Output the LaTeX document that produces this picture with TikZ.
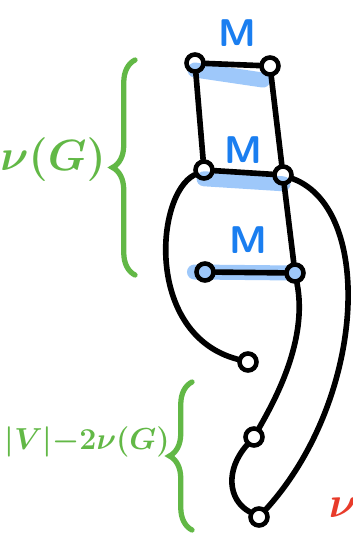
\documentclass[tikz,border=0pt]{standalone}
\usepackage{amsmath}
\usepackage{tikz}
\usetikzlibrary{backgrounds,decorations.pathreplacing}
\definecolor{mblue}{HTML}{1A7EF0}
\definecolor{hlblue}{HTML}{9EC8FA}
\definecolor{bgreen}{HTML}{62B846}
\definecolor{sred}{HTML}{E83B2A}

\begin{document}
\begin{tikzpicture}[x=0.02cm, y=-0.02cm,
          vtx/.style={circle, draw=black, line width=2.6pt, minimum size=0.34cm,
              inner sep=0pt},
          edge/.style={black, line width=3.2pt, line cap=round},
          match/.style={hlblue, line width=0.3cm, line cap=round},
          mlabel/.style={text=mblue, font=\fontsize{22}{22}\selectfont\sffamily\bfseries},
          glabel/.style={text=bgreen, inner sep=0pt, anchor=east},
          gbrace/.style={bgreen, line width=3pt, line cap=round,
              decorate, decoration={brace, amplitude=0.45cm}}
        ]
        \useasboundingbox (0,0) rectangle (352,536);
        % vertices
        \node[vtx] (a1) at (195,63)  {};
        \node[vtx] (a2) at (270,66)  {};
        \node[vtx] (b1) at (204,170) {};
        \node[vtx] (b2) at (283,175) {};
        \node[vtx] (c1) at (205,272) {};
        \node[vtx] (c2) at (295,273) {};
        \node[vtx] (d)  at (248,362) {};
        \node[vtx] (f)  at (254,437) {};
        \node[vtx] (e)  at (259,517) {};
        \node[mlabel] (m1) at (237,33)  {M};
        \node[mlabel] (m2) at (243,150) {M};
        \node[mlabel] (m3) at (248,240) {M};
        % matching highlight
        \begin{scope}[on background layer]
          \draw[match] ([yshift=-4pt]a1.center) -- ([xshift=-4pt,yshift=-8pt]a2.center);
          \draw[match] ([yshift=-5pt]b1.center) -- ([yshift=-5pt]b2.center);
          \draw[match] ([xshift=-6pt]c1.center) -- (c2.center);
        \end{scope}
        % edges
        \draw[edge] (a1) -- (a2);
        \draw[edge] (b1) -- (b2);
        \draw[edge] (c1) -- (c2);
        \draw[edge] (a1) -- (b1);
        \draw[edge] (a2) -- (b2);
        \draw[edge] (b2) -- (c2);
        \draw[edge] (b1) .. controls (155,195) and (145,335) .. (d);
        \draw[edge] (b2) .. controls (375,210) and (365,400) .. (e);
        \draw[edge] (c2) .. controls (308,340) and (275,400) .. (f);
        \draw[edge] (f) .. controls (225,470) and (228,500) .. (e);
        % braces
        \coordinate (br1a) at (135,275);
        \coordinate (br1b) at (135,60);
        \coordinate (br2a) at (192,530);
        \coordinate (br2b) at (192,382);
        \draw[gbrace] (br1a) -- (br1b);
        \draw[gbrace] (br2a) -- (br2b);
        \node[glabel, font=\fontsize{25}{25}\selectfont\boldmath] (nu) at (106,160) {$\nu(G)$};
        \node[glabel, font=\fontsize{19}{19}\selectfont\boldmath] (rest) at (170,442) {$|V|{-}2\nu(G)$};
        \node[text=sred, font=\fontsize{28}{28}\selectfont\boldmath] (cut) at (343,508) {$\nu$};
      \end{tikzpicture}
\end{document}
